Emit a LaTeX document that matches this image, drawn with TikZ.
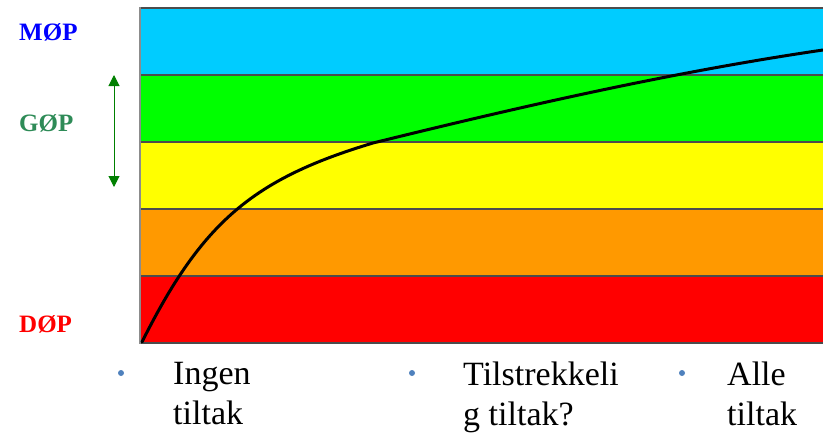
\documentclass[tikz,border=0pt]{standalone}
\usepackage{fontspec}
\setmainfont{Liberation Serif}
\usepackage{xcolor}
\usetikzlibrary{arrows.meta}

\definecolor{cmop}{RGB}{0,204,255}
\definecolor{cgreen}{RGB}{0,255,0}
\definecolor{cyel}{RGB}{255,255,0}
\definecolor{corange}{RGB}{255,153,0}
\definecolor{cred}{RGB}{255,0,0}
\definecolor{gopcol}{RGB}{46,139,87}
\definecolor{bulcol}{RGB}{79,129,189}

\begin{document}
\begin{tikzpicture}[x=1pt,y=-1pt,
  lvl/.style={anchor=west,inner sep=0pt,font=\fontsize{25}{27}\selectfont\bfseries},
  txt/.style={anchor=north west,inner sep=0pt,align=left,font=\fontsize{34}{40}\selectfont},
  bul/.style={circle,fill=bulcol,inner sep=0pt,minimum size=6pt},
  band/.style={draw=black!70,line width=1.2pt}]
\useasboundingbox (0,0) rectangle (823,434);
% bands
\foreach \c [count=\i from 0] in {cmop,cgreen,cyel,corange,cred}
  \filldraw[band,fill=\c] (140.5,8+67*\i) rectangle (830,75+67*\i);
\draw[black!45,line width=1.4pt] (140,7) -- (140,344);
% curve
\coordinate (c0) at (142,342);
\coordinate (c1) at (373,143);
\coordinate (c2) at (823,50);
\draw[line width=3pt,line cap=round] (c0) .. controls (202,222) and (253,179) .. (c1)
  .. controls (523,106) and (673,72) .. (c2);
% levels
\node[lvl,text=blue] (mop) at (19,32) {MØP};
\node[lvl,text=gopcol] (gop) at (19,123) {GØP};
\node[lvl,text=red] (dop) at (19,324) {DØP};
\coordinate (atop) at (114,75);
\coordinate (abot) at (114,187);
\draw[{Triangle[length=11pt,width=11pt]}-{Triangle[length=11pt,width=11pt]},green!50!black,line width=1pt] (atop) -- (abot);
% bottom labels
\node[bul] (b1) at (121,373) {};
\node[txt] (ingen) at (173,362) {Ingen\\tiltak};
\node[bul] (b2) at (412,373) {};
\node[txt] (tilstr) at (463,362) {Tilstrekkeli\\g tiltak?};
\node[bul] (b3) at (682,373) {};
\node[txt] (alle) at (727,362) {Alle\\tiltak};
\end{tikzpicture}
\end{document}
